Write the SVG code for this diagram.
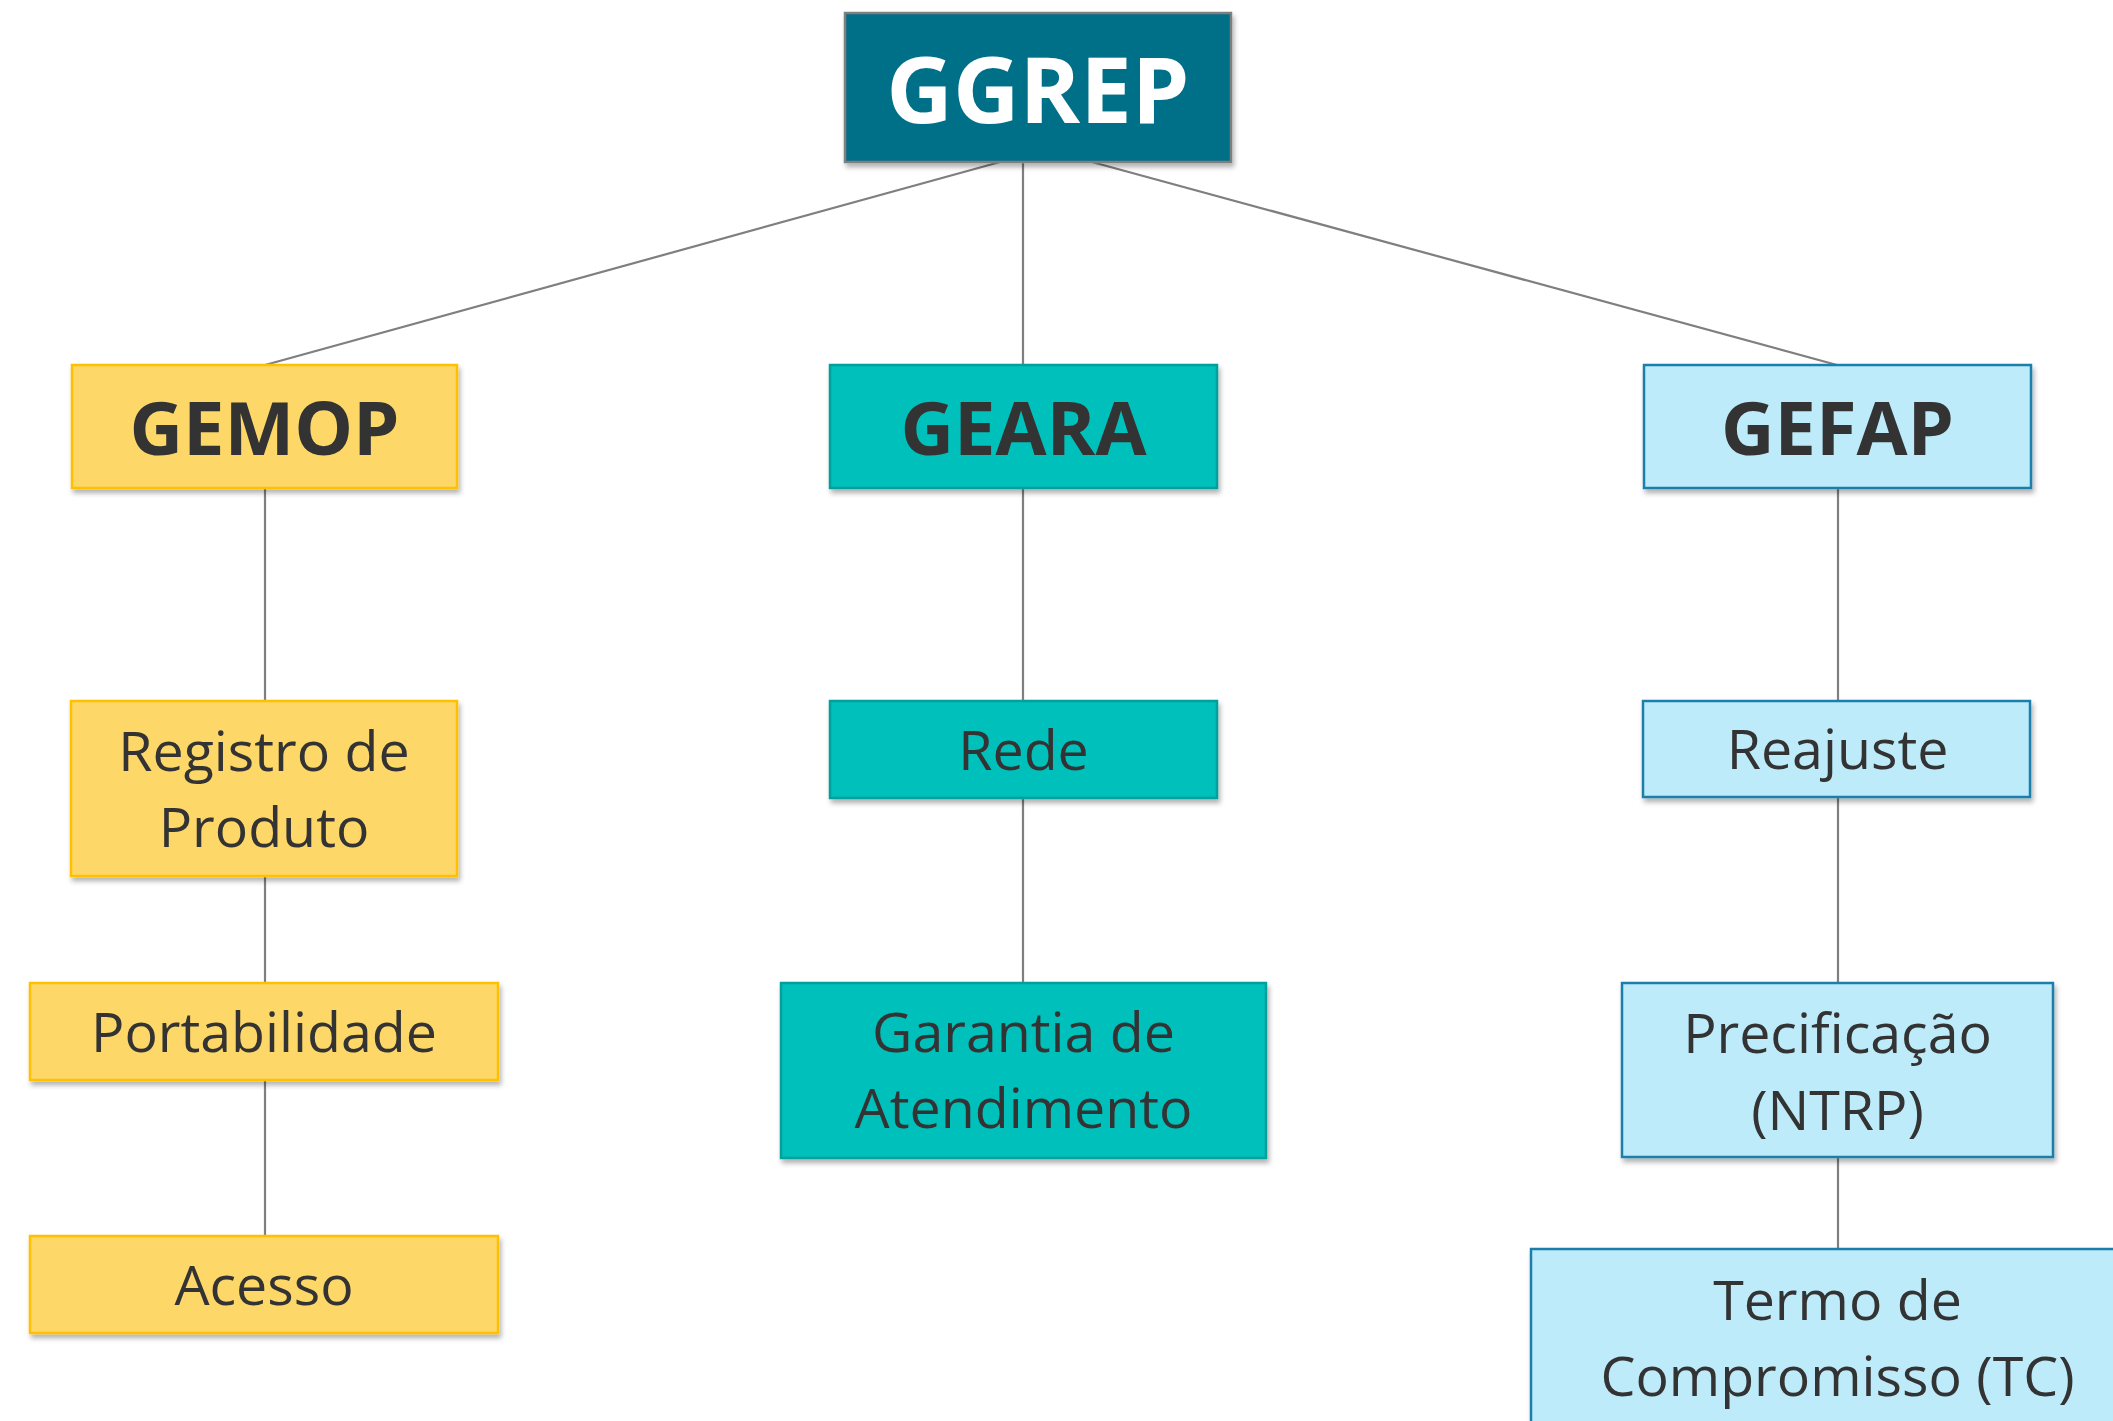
<svg xmlns="http://www.w3.org/2000/svg" width="2113" height="1421" viewBox="0 0 2113 1421">
<defs>
<filter id="sh" x="-10%" y="-10%" width="120%" height="130%">
<feDropShadow dx="2" dy="4" stdDeviation="2.5" flood-color="#000" flood-opacity="0.3"/>
</filter>
<style>
.conn line{stroke:#7f7f7f;stroke-width:2.2;fill:none}
.top rect{fill:#026f88;stroke:#7f7f7f;stroke-width:2.5}
.y rect{fill:#fdd868;stroke:#ffc000;stroke-width:2.5}
.t rect{fill:#00c0bb;stroke:#00a09c;stroke-width:2.5}
.b rect{fill:#bdebfa;stroke:#1a7fab;stroke-width:2.5}
rect{filter:url(#sh)}
text{font-family:"Open Sans","Noto Sans","Liberation Sans",sans-serif;text-anchor:middle;fill:#333333}
.h{font-weight:bold;font-size:74px}
.r{font-size:55.5px}
.top text{fill:#ffffff;font-weight:bold;font-size:92px}
</style>
</defs>
<rect x="0" y="0" width="2113" height="1421" fill="#ffffff" style="filter:none"/>
<g id="connectors" class="conn">
<line x1="1000" y1="162" x2="265" y2="365"/>
<line x1="1023" y1="162" x2="1023" y2="365"/>
<line x1="1092" y1="162" x2="1837" y2="365"/>
<line x1="265" y1="488" x2="265" y2="701"/>
<line x1="265" y1="876" x2="265" y2="983"/>
<line x1="265" y1="1080" x2="265" y2="1236"/>
<line x1="1023" y1="488" x2="1023" y2="701"/>
<line x1="1023" y1="798" x2="1023" y2="983"/>
<line x1="1838" y1="488" x2="1838" y2="701"/>
<line x1="1838" y1="797" x2="1838" y2="983"/>
<line x1="1838" y1="1157" x2="1838" y2="1249"/>
</g>
<g id="ggrep" class="top">
<rect x="845" y="13" width="386" height="149"/>
<text x="1038" y="123">GGREP</text>
</g>
<g id="gemop" class="y">
<rect x="72" y="365" width="385" height="123"/>
<text class="h" x="264.5" y="455">GEMOP</text>
</g>
<g id="geara" class="t">
<rect x="830" y="365" width="387" height="123"/>
<text class="h" x="1023.5" y="455">GEARA</text>
</g>
<g id="gefap" class="b">
<rect x="1644" y="365" width="387" height="123"/>
<text class="h" x="1837.5" y="455">GEFAP</text>
</g>
<g id="registro" class="y">
<rect x="71" y="701" width="386" height="175"/>
<text class="r" x="264" y="771">Registro de</text>
<text class="r" x="264" y="847">Produto</text>
</g>
<g id="portabilidade" class="y">
<rect x="30" y="983" width="468" height="97"/>
<text class="r" x="264" y="1052">Portabilidade</text>
</g>
<g id="acesso" class="y">
<rect x="30" y="1236" width="468" height="97"/>
<text class="r" x="264" y="1305">Acesso</text>
</g>
<g id="rede" class="t">
<rect x="830" y="701" width="387" height="97"/>
<text class="r" x="1023.5" y="770">Rede</text>
</g>
<g id="garantia" class="t">
<rect x="781" y="983" width="485" height="175"/>
<text class="r" x="1023.5" y="1052">Garantia de</text>
<text class="r" x="1023.5" y="1128">Atendimento</text>
</g>
<g id="reajuste" class="b">
<rect x="1643" y="701" width="387" height="96"/>
<text class="r" x="1837.5" y="769">Reajuste</text>
</g>
<g id="precificacao" class="b">
<rect x="1622" y="983" width="431" height="174"/>
<text class="r" x="1837.5" y="1053">Precificação</text>
<text class="r" x="1837.5" y="1130">(NTRP)</text>
</g>
<g id="termo" class="b">
<rect x="1531" y="1249" width="613" height="200"/>
<text class="r" x="1837.5" y="1320">Termo de</text>
<text class="r" x="1837.5" y="1396">Compromisso (TC)</text>
</g>
</svg>
